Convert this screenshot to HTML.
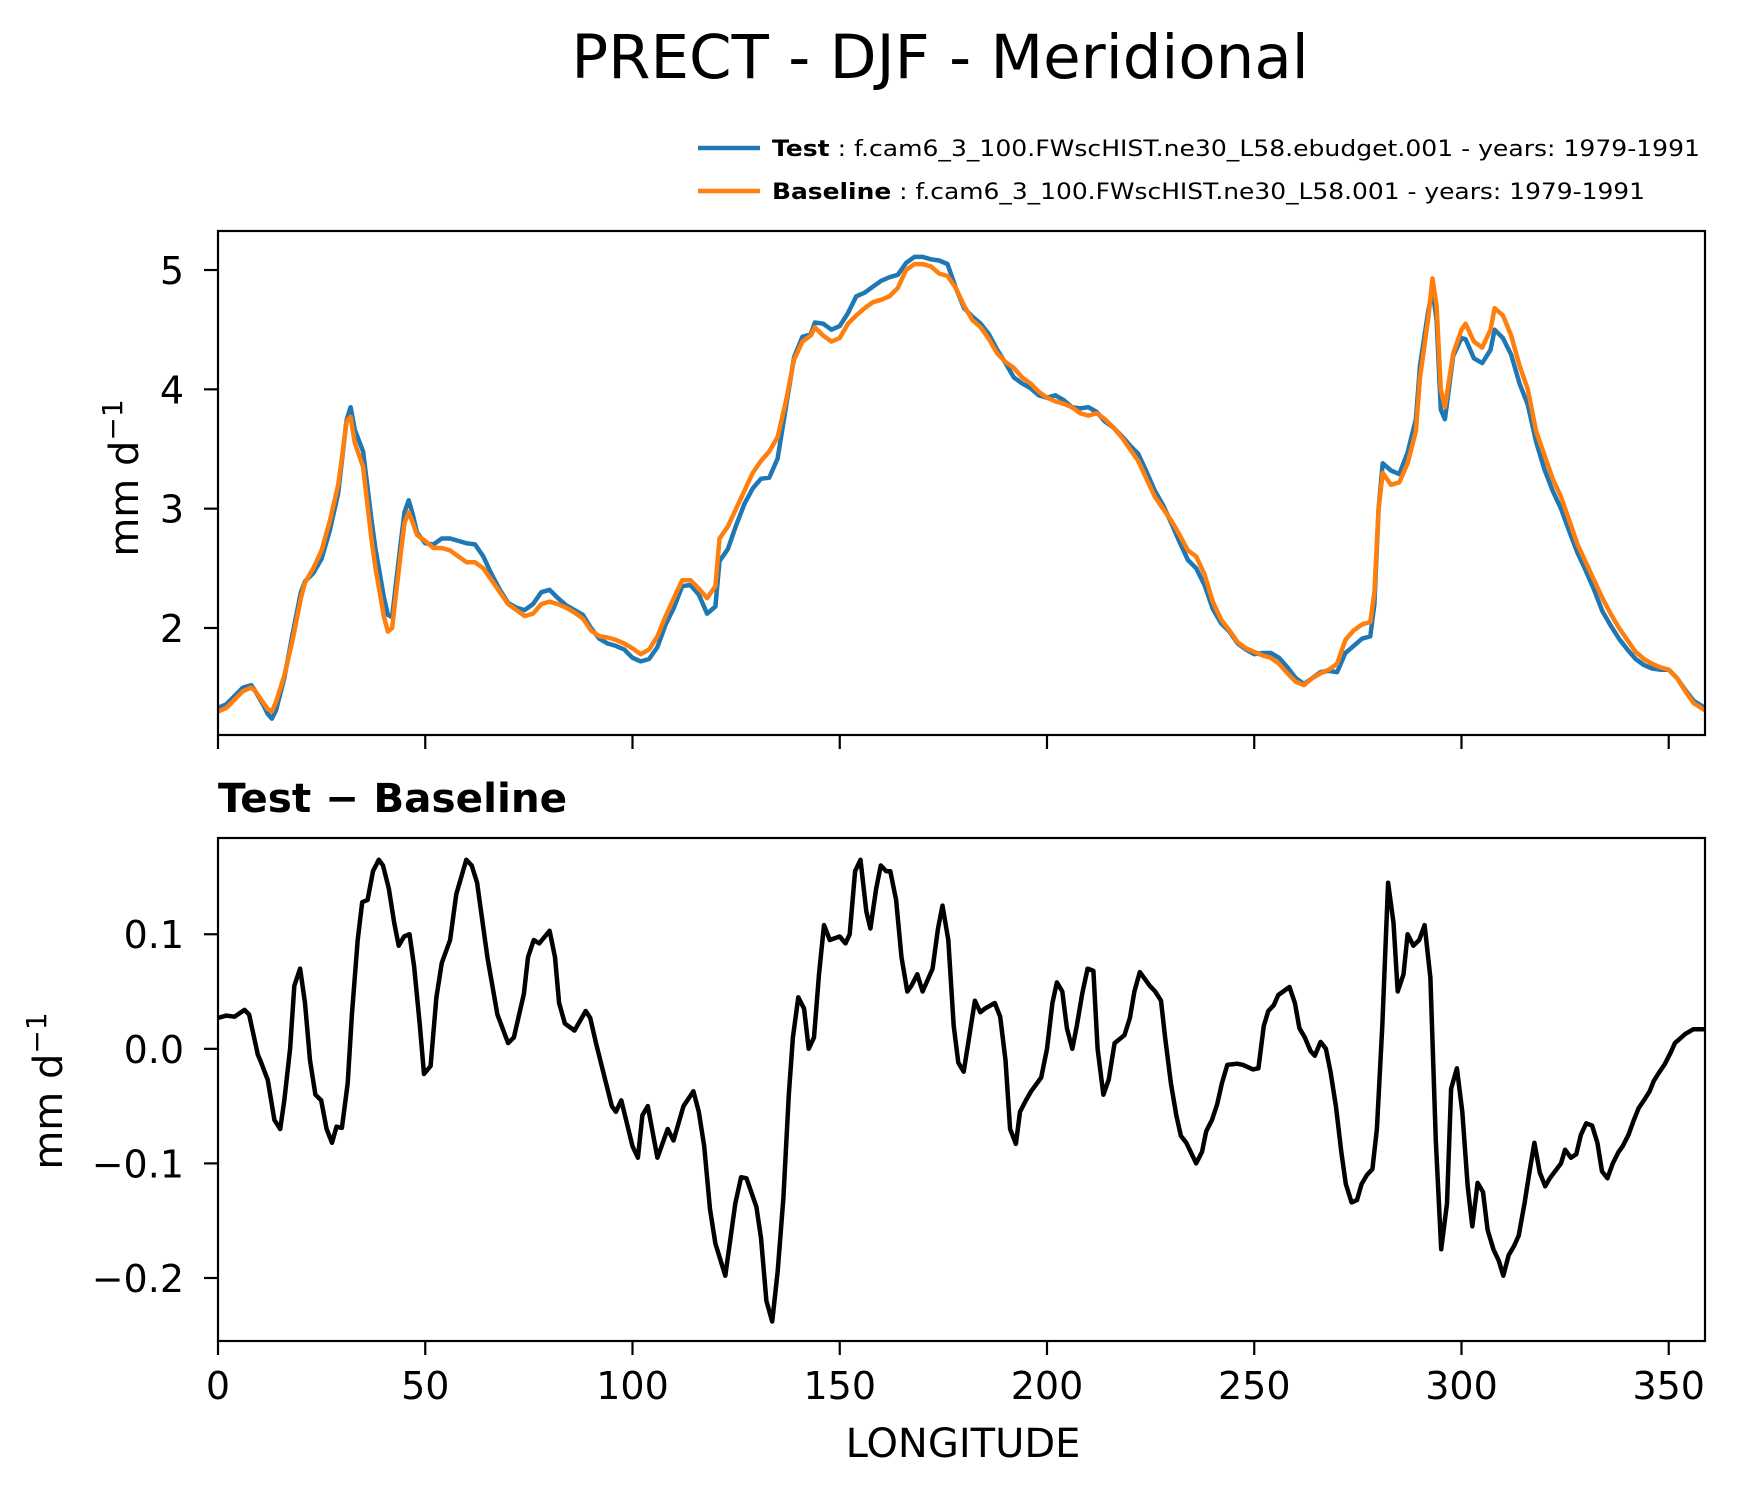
<!DOCTYPE html>
<html><head><meta charset="utf-8"><style>
html,body{margin:0;padding:0;background:#fff;}
svg{display:block;font-family:"DejaVu Sans","Liberation Sans",sans-serif;}
</style></head><body>
<svg id="chart" width="1738" height="1496" viewBox="0 0 1738 1496" xmlns="http://www.w3.org/2000/svg">
<text x="940" y="78" font-size="61" text-anchor="middle">PRECT - DJF - Meridional</text>
<g>
 <line x1="698" y1="148" x2="760" y2="148" stroke="#1f77b4" stroke-width="4.5"/>
 <text x="772" y="156" font-size="22" textLength="928" lengthAdjust="spacingAndGlyphs"><tspan font-weight="bold">Test</tspan> : f.cam6_3_100.FWscHIST.ne30_L58.ebudget.001 - years: 1979-1991</text>
 <line x1="698" y1="191" x2="760" y2="191" stroke="#ff7f0e" stroke-width="4.5"/>
 <text x="772" y="199" font-size="22" textLength="873" lengthAdjust="spacingAndGlyphs"><tspan font-weight="bold">Baseline</tspan> : f.cam6_3_100.FWscHIST.ne30_L58.001 - years: 1979-1991</text>
</g>
<g id="top"></g>
<g id="bot"></g>
<text x="218" y="812" font-size="40.5" font-weight="bold">Test − Baseline</text>
<text transform="translate(138,478) rotate(-90)" font-size="40" text-anchor="middle">mm d<tspan font-size="28" dy="-16">−1</tspan></text>
<text transform="translate(62,1091) rotate(-90)" font-size="40" text-anchor="middle">mm d<tspan font-size="28" dy="-16">−1</tspan></text>
<text x="963" y="1457" font-size="40" text-anchor="middle">LONGITUDE</text>
</svg>
<script>
const xTicks=[0,50,100,150,200,250,300,350];
const topTicks=[2,3,4,5];
const botTicks=[0.1,0.0,-0.1,-0.2];
const botTickLabels=["0.1","0.0","−0.1","−0.2"];
const baseLon=[0,2,4,6,8,9,11,12,13,14,16,18,20,21,23,25,27,29,30,31,32,33,35,36,37,38,39,40,41,42,43,44,45,46,47,48,50,52,54,56,58,60,62,64,66,68,70,72,74,76,78,80,82,84,86,88,90,92,94,96,98,100,102,104,106,108,110,112,114,116,118,120,121,123,125,127,129,131,133,135,137,139,141,143,144,146,148,150,152,154,156,158,160,162,164,166,168,170,172,174,176,178,180,182,184,186,188,190,192,194,196,198,200,202,204,206,208,210,212,214,216,218,220,222,224,226,228,230,232,234,236,238,240,242,244,246,248,250,252,254,256,258,260,262,264,266,268,270,272,274,276,278,279,280,281,283,285,287,289,290,292,293,294,295,296,298,300,301,303,305,307,308,310,312,314,316,318,320,322,324,326,328,330,332,334,336,338,340,342,344,346,348,350,352,354,356,358.75];
const baseVals=[1.3,1.33,1.4,1.47,1.5,1.47,1.37,1.32,1.3,1.38,1.6,1.9,2.25,2.38,2.5,2.65,2.9,3.2,3.45,3.73,3.77,3.55,3.35,3.05,2.75,2.5,2.3,2.1,1.97,2.0,2.3,2.6,2.88,2.97,2.88,2.78,2.73,2.67,2.67,2.65,2.6,2.55,2.55,2.5,2.4,2.3,2.2,2.15,2.1,2.12,2.2,2.22,2.2,2.17,2.13,2.08,1.98,1.93,1.92,1.9,1.87,1.83,1.78,1.82,1.93,2.1,2.25,2.4,2.4,2.33,2.25,2.35,2.75,2.85,3.0,3.15,3.3,3.4,3.48,3.6,3.9,4.25,4.4,4.45,4.52,4.45,4.4,4.43,4.55,4.62,4.68,4.73,4.75,4.78,4.85,5.0,5.05,5.05,5.03,4.97,4.95,4.85,4.7,4.58,4.52,4.42,4.3,4.23,4.18,4.1,4.05,3.98,3.93,3.9,3.88,3.85,3.8,3.78,3.8,3.75,3.68,3.6,3.5,3.4,3.25,3.1,3.0,2.9,2.78,2.65,2.6,2.45,2.22,2.07,1.98,1.88,1.83,1.8,1.77,1.75,1.7,1.62,1.55,1.52,1.58,1.62,1.65,1.7,1.9,1.98,2.03,2.05,2.3,3.0,3.3,3.2,3.22,3.38,3.65,4.1,4.6,4.93,4.7,4.0,3.85,4.3,4.5,4.55,4.4,4.35,4.5,4.68,4.62,4.45,4.2,4.0,3.65,3.45,3.25,3.1,2.9,2.7,2.55,2.4,2.25,2.12,2.0,1.9,1.8,1.74,1.7,1.67,1.65,1.58,1.47,1.37,1.31];
const testVals=[1.33,1.36,1.43,1.5,1.52,1.47,1.35,1.28,1.24,1.31,1.58,1.95,2.3,2.39,2.46,2.58,2.82,3.13,3.43,3.74,3.85,3.66,3.48,3.2,2.91,2.66,2.46,2.26,2.11,2.09,2.39,2.69,2.97,3.07,2.95,2.8,2.71,2.7,2.75,2.75,2.73,2.71,2.7,2.6,2.45,2.32,2.21,2.17,2.15,2.2,2.3,2.32,2.25,2.19,2.15,2.11,2.0,1.91,1.87,1.85,1.82,1.75,1.72,1.74,1.84,2.03,2.17,2.35,2.36,2.28,2.12,2.18,2.56,2.66,2.86,3.04,3.17,3.25,3.26,3.42,3.85,4.27,4.44,4.46,4.56,4.55,4.5,4.53,4.64,4.78,4.81,4.86,4.91,4.94,4.96,5.06,5.11,5.11,5.09,5.08,5.05,4.85,4.68,4.61,4.55,4.46,4.33,4.22,4.1,4.05,4.01,3.95,3.93,3.95,3.91,3.85,3.84,3.85,3.81,3.73,3.68,3.61,3.53,3.46,3.31,3.15,3.03,2.88,2.72,2.57,2.5,2.36,2.16,2.04,1.97,1.87,1.82,1.78,1.79,1.79,1.75,1.67,1.58,1.53,1.58,1.63,1.64,1.63,1.79,1.85,1.91,1.93,2.2,3.0,3.38,3.32,3.29,3.47,3.75,4.2,4.66,4.83,4.58,3.83,3.75,4.28,4.43,4.42,4.26,4.22,4.33,4.5,4.43,4.29,4.05,3.87,3.56,3.33,3.15,3.0,2.81,2.63,2.48,2.32,2.14,2.02,1.91,1.82,1.74,1.69,1.66,1.65,1.65,1.58,1.48,1.39,1.33];
const diffLon=[0,2,4,6.4,7.5,9.6,10.2,12,13.6,15,16,17.4,18.4,19.8,21,22.2,23.5,24.9,26.2,27.5,28.6,29.9,31.3,32.3,33.7,34.8,36.1,37.4,38.8,39.8,41.2,42.5,43.6,44.9,46.2,47.3,48.7,49.7,51.3,52.7,54,56,57.5,59.9,61.2,62.5,65,67.4,70,71.4,73.8,74.8,76.2,77.5,80,81.3,82.3,83.7,86,88.7,89.8,91.2,95,96,97.3,100,101.3,102.4,103.7,106,108.5,109.9,112.3,114.7,116,117.3,118.7,120,122.4,124.8,126.2,127.5,129.9,131,132.3,133.7,135,136.4,137.7,138.7,140,141.4,142.5,143.8,145,146.2,147.6,150,151.4,152.4,153.7,155,156.4,157.4,158.8,159.9,161.2,162.2,163.6,164.9,166.3,167.3,168.7,170,172.4,173.7,174.8,176.2,177.5,178.6,179.9,181.2,182.6,183.9,185,187.4,188.7,190,191.1,192.5,193.5,194.9,196.2,198.6,200,201.3,202.4,203.7,204.8,206.1,207.2,208.5,209.8,211.2,212.2,213.6,214.9,216.3,218.7,220,221.1,222.4,224.8,226.1,227.5,228.5,229.9,231.2,232.3,233.6,236,237.4,238.4,239.8,241.1,242.2,243.5,245.9,247.3,249.7,251,252.3,253.4,254.7,255.8,258.5,259.8,260.9,262.2,263.6,264.6,266,267.3,268.4,269.7,271,272.1,273.5,274.8,275.9,277.2,278.5,279.6,280.9,282.3,283.6,284.6,286,287,288.4,289.8,291.1,292.5,293.8,295.1,296.5,297.5,298.9,300.2,301.5,302.6,303.9,305.2,306.3,307.7,309,310.1,311.4,312.7,313.8,315.2,316.5,317.6,318.9,320.2,321.3,324,325,326.4,327.7,328.8,330.1,331.5,332.8,333.9,335.2,336.5,337.9,338.9,340.3,341.6,342.7,344,345.4,346.4,347.8,349.1,350.5,351.5,354,355.9,358.75];
const diffVals=[0.027,0.029,0.028,0.034,0.03,-0.005,-0.01,-0.027,-0.062,-0.07,-0.045,0.0,0.055,0.07,0.04,-0.01,-0.04,-0.045,-0.07,-0.082,-0.068,-0.069,-0.03,0.03,0.095,0.128,0.13,0.155,0.165,0.16,0.14,0.11,0.09,0.098,0.1,0.072,0.02,-0.022,-0.015,0.045,0.075,0.095,0.135,0.165,0.16,0.145,0.08,0.03,0.005,0.01,0.048,0.08,0.095,0.092,0.103,0.08,0.04,0.022,0.016,0.033,0.027,0.005,-0.05,-0.055,-0.045,-0.085,-0.095,-0.058,-0.05,-0.095,-0.07,-0.08,-0.05,-0.037,-0.055,-0.085,-0.14,-0.17,-0.198,-0.135,-0.112,-0.113,-0.138,-0.165,-0.22,-0.238,-0.195,-0.13,-0.04,0.01,0.045,0.035,0.0,0.01,0.065,0.108,0.095,0.098,0.092,0.1,0.155,0.165,0.12,0.105,0.14,0.16,0.155,0.155,0.13,0.08,0.05,0.055,0.065,0.05,0.07,0.105,0.125,0.095,0.02,-0.012,-0.02,0.01,0.042,0.032,0.035,0.04,0.028,-0.01,-0.07,-0.083,-0.055,-0.045,-0.037,-0.025,0.0,0.04,0.058,0.05,0.018,0.0,0.02,0.048,0.07,0.068,0.0,-0.04,-0.027,0.005,0.012,0.027,0.05,0.067,0.055,0.05,0.042,0.01,-0.03,-0.058,-0.076,-0.082,-0.1,-0.09,-0.072,-0.062,-0.048,-0.03,-0.014,-0.013,-0.014,-0.018,-0.017,0.02,0.033,0.038,0.047,0.054,0.04,0.018,0.01,-0.002,-0.006,0.006,0.0,-0.02,-0.05,-0.09,-0.118,-0.134,-0.132,-0.118,-0.11,-0.105,-0.07,0.02,0.145,0.11,0.05,0.065,0.1,0.09,0.095,0.108,0.062,-0.08,-0.175,-0.135,-0.035,-0.017,-0.055,-0.12,-0.155,-0.117,-0.125,-0.158,-0.175,-0.185,-0.198,-0.18,-0.172,-0.163,-0.135,-0.105,-0.082,-0.108,-0.12,-0.113,-0.1,-0.088,-0.095,-0.092,-0.075,-0.065,-0.067,-0.082,-0.107,-0.113,-0.1,-0.09,-0.085,-0.075,-0.062,-0.052,-0.045,-0.037,-0.028,-0.02,-0.013,-0.003,0.005,0.013,0.017,0.017];

const NS="http://www.w3.org/2000/svg";
const L=218,R=1705,XMIN=0,XMAX=358.75;
const X=v=>L+(v-XMIN)/(XMAX-XMIN)*(R-L);
const T={top:231,bot:735,min:1.103,max:5.327};
const B={top:838,bot:1341,min:-0.255,max:0.184};
const yT=v=>T.bot-(v-T.min)/(T.max-T.min)*(T.bot-T.top);
const yB=v=>B.bot-(v-B.min)/(B.max-B.min)*(B.bot-B.top);
function mk(tag,attrs,parent){const e=document.createElementNS(NS,tag);for(const k in attrs)e.setAttribute(k,attrs[k]);parent.appendChild(e);return e;}
function path(xs,ys,fy,color,g,name,w){
  let d="";xs.forEach((x,i)=>{d+=(i?"L":"M")+X(x).toFixed(1)+","+fy(ys[i]).toFixed(1);});
  const p=mk("path",{d:d,fill:"none",stroke:color,"stroke-width":w,"stroke-linejoin":"round","stroke-linecap":"square"},g);
  
  
}
const gt=document.getElementById("top"),gb=document.getElementById("bot");
const defs=mk("defs",{},document.getElementById("chart"));
const c1=mk("clipPath",{id:"c1"},defs);mk("rect",{x:L,y:T.top,width:R-L,height:T.bot-T.top},c1);
const c2=mk("clipPath",{id:"c2"},defs);mk("rect",{x:L,y:B.top,width:R-L,height:B.bot-B.top},c2);
const gtl=mk("g",{"clip-path":"url(#c1)"},gt);


const gbl=mk("g",{"clip-path":"url(#c2)"},gb);


path(baseLon,testVals,yT,"#1f77b4",gtl,"test-line",4.5);
path(baseLon,baseVals,yT,"#ff7f0e",gtl,"baseline-line",4.5);
path(diffLon,diffVals,yB,"#000",gbl,"difference-line",4.5);
[[gt,T],[gb,B]].forEach(([g,A],i)=>{
  const r=mk("rect",{x:L,y:A.top,width:R-L,height:A.bot-A.top,fill:"none",stroke:"#000","stroke-width":2.2},g);
  
  
  xTicks.forEach(v=>{
    const t=mk("line",{x1:X(v),x2:X(v),y1:A.bot,y2:A.bot+14,stroke:"#000","stroke-width":2.2},g);
    
    
  });
});
xTicks.forEach(v=>{
  const t=mk("text",{x:X(v),y:1399,"font-size":38,"text-anchor":"middle"},gb);
  t.textContent=String(v);
  
  
});
topTicks.forEach(v=>{
  const l=mk("line",{x1:L-14,x2:L,y1:yT(v),y2:yT(v),stroke:"#000","stroke-width":2.2},gt);
  
  
  const t=mk("text",{x:L-34,y:yT(v)+14,"font-size":38,"text-anchor":"end"},gt);
  t.textContent=String(v);
  
  
});
botTicks.forEach((v,i)=>{
  const l=mk("line",{x1:L-14,x2:L,y1:yB(v),y2:yB(v),stroke:"#000","stroke-width":2.2},gb);
  
  
  const t=mk("text",{x:L-34,y:yB(v)+14,"font-size":38,"text-anchor":"end"},gb);
  t.textContent=botTickLabels[i];
  
  
});
</script>
</body></html>
